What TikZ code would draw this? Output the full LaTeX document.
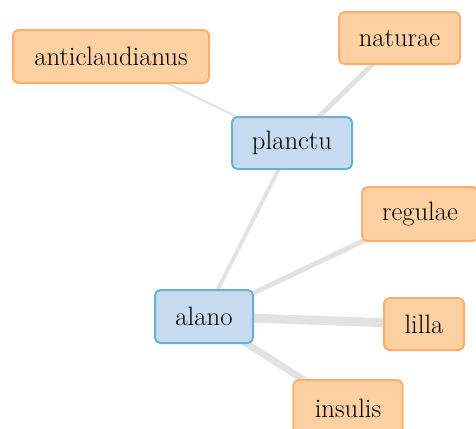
\documentclass[tikz,border=0pt]{standalone}
\usetikzlibrary{backgrounds}
\begin{document}
\begin{tikzpicture}[x=0.75pt,y=-0.75pt,
  box/.style={draw, line width=1.5pt, rounded corners=4pt, inner sep=0pt, font=\fontsize{20}{22}\selectfont, text=black},
  leaf/.style={box, fill={rgb,255:red,253;green,208;blue,162}, draw={rgb,255:red,253;green,174;blue,107}},
  hub/.style={box, fill={rgb,255:red,198;green,219;blue,239}, draw={rgb,255:red,107;green,174;blue,214}},
  link/.style={draw={rgb,255:red,226;green,226;blue,226}}
]
\useasboundingbox (0,0) rectangle (476,429);
\clip (0,0) rectangle (476,429);
\node[leaf, minimum width=147pt, minimum height=39.75pt] (anti) at (111,56.5) {anticlaudianus};
\node[leaf, minimum width=90.75pt, minimum height=39pt] (nat) at (399.5,38) {naturae};
\node[hub, minimum width=90pt, minimum height=39pt] (pla) at (292,143) {planctu};
\node[leaf, minimum width=87pt, minimum height=40.5pt] (reg) at (420,214) {regulae};
\node[hub, minimum width=73.5pt, minimum height=39.75pt] (ala) at (204,316.5) {alano};
\node[leaf, minimum width=60pt, minimum height=39pt] (lil) at (424,324) {lilla};
\node[leaf, minimum width=82pt, minimum height=42pt] (ins) at (348,408) {insulis};
\begin{scope}[on background layer]
\draw[link, line width=1.5pt] (anti.center) -- (pla.center);
\draw[link, line width=3.75pt] (pla.center) -- (nat.center);
\draw[link, line width=3pt] (pla.center) -- (ala.center);
\draw[link, line width=3.75pt] (ala.center) -- (reg.center);
\draw[link, line width=6.75pt] (ala.center) -- (lil.center);
\draw[link, line width=5.25pt] (ala.center) -- (ins.center);
\end{scope}
\end{tikzpicture}
\end{document}
